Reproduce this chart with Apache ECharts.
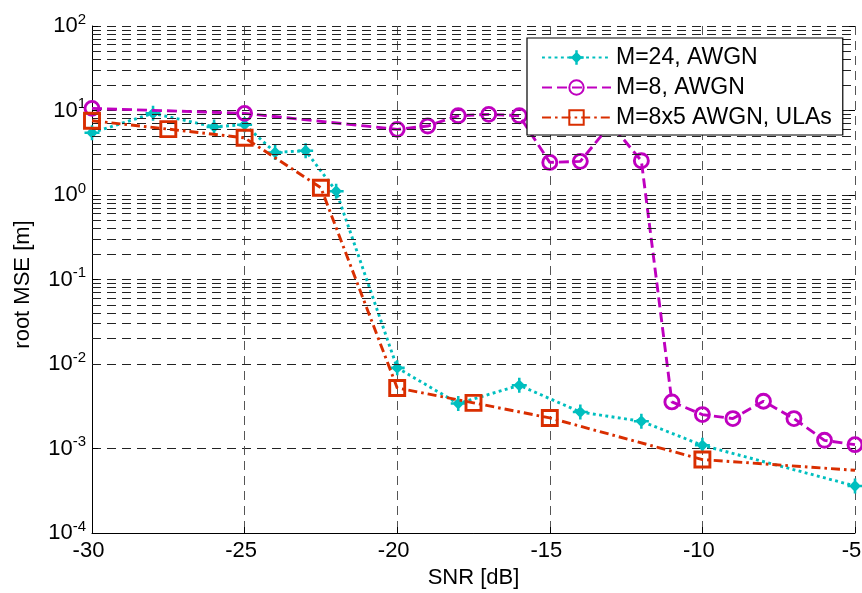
<!DOCTYPE html>
<html>
<head>
<meta charset="utf-8">
<script src="https://cdn.jsdelivr.net/npm/echarts@6/dist/echarts.min.js"></script>
<style>
html,body{margin:0;padding:0;background:#fff;}
#chart{width:862px;height:593px;}
</style>
</head>
<body>
<div id="chart"></div>
<script>
// ---- data ----
const seriesNames = ['M=24, AWGN', 'M=8, AWGN', 'M=8x5 AWGN, ULAs'];

const cyanX = [-30, -28, -26, -25, -24, -23, -22, -20, -18, -16, -14, -12, -10, -5];
const cyanY = [5.45, 9.25, 6.4, 6.8, 3.19, 3.34, 1.11, 0.0090, 0.0034, 0.0056, 0.0027, 0.0021, 0.00109, 0.00036];

const magentaX = [-30, -25, -20, -19, -18, -17, -16, -15, -14, -13, -12, -11, -10, -9, -8, -7, -6, -5];
const magentaY = [10.6, 9.25, 5.98, 6.55, 8.67, 9.0, 8.67, 2.43, 2.5, 6.9, 2.54, 0.00356, 0.00252, 0.00226, 0.00363, 0.00226, 0.00125, 0.00111];

const redX = [-30, -27.5, -25, -22.5, -20, -17.5, -15, -10, -5];
const redY = [7.57, 6.02, 4.75, 1.22, 0.00521, 0.00347, 0.0023, 0.00074, 0.000552];
const redMarked = [true, true, true, true, true, true, true, true, false];

const xTicks = [-30, -25, -20, -15, -10, -5];
const yDecades = [-4, -3, -2, -1, 0, 1, 2];
const minorMultipliers = [2, 3, 4, 5, 6, 7, 8, 9];

// ---- build ----
const FONT = 'Liberation Sans, Arial, Helvetica, sans-serif';
const C_CYAN = '#00bfbf', C_MAG = '#bf00bf', C_RED = '#d92e00';
const LW = 2.9;

const pairs = (xs, ys) => xs.map((x, i) => [x, ys[i]]);

const minorLines = [];
for (let d = yDecades[0]; d < yDecades[yDecades.length - 1]; d++) {
  minorMultipliers.forEach(m => minorLines.push({ yAxis: m * Math.pow(10, d) }));
}

const starPath = 'path://M-1.7,-10L1.7,-10L1.7,-6.2L6.2,-1.7L10,-1.7L10,1.7L6.2,1.7L1.7,6.2L1.7,10L-1.7,10L-1.7,6.2L-6.2,1.7L-10,1.7L-10,-1.7L-6.2,-1.7L-1.7,-6.2Z';

const chart = echarts.init(document.getElementById('chart'), null, { renderer: 'canvas' });
chart.setOption({
  animation: false,
  backgroundColor: '#fff',
  textStyle: { fontFamily: FONT },
  grid: { left: 92, right: 7, top: 26, bottom: 60, containLabel: false, outerBoundsMode: 'none' },
  legend: {
    orient: 'vertical',
    left: 527, top: 38,
    data: seriesNames,
    backgroundColor: '#fff',
    borderColor: '#000', borderWidth: 1.2, borderRadius: 0,
    padding: [8, 11, 6, 14],
    itemWidth: 69, itemHeight: 18, itemGap: 7,
    textStyle: { fontSize: 23, color: '#000', fontFamily: FONT },
    z: 20
  },
  xAxis: {
    type: 'value', min: xTicks[0], max: xTicks[xTicks.length - 1], interval: 5,
    name: 'SNR [dB]', nameLocation: 'middle', nameGap: 34,
    nameTextStyle: { fontSize: 22, color: '#000', fontFamily: FONT },
    axisLine: { show: true, onZero: false, lineStyle: { color: '#000', width: 1 } },
    axisTick: { show: true, inside: true, length: 6, lineStyle: { color: '#000' } },
    axisLabel: { fontSize: 22, color: '#000', margin: 7, fontFamily: FONT, padding: [0, 7, 0, 0] },
    splitLine: { show: true, lineStyle: { color: '#555', type: [9, 6], width: 1 } }
  },
  yAxis: [{
    type: 'log', logBase: 10, min: Math.pow(10, yDecades[0]), max: Math.pow(10, yDecades[yDecades.length - 1]),
    splitNumber: 6,
    name: 'root MSE [m]', nameLocation: 'middle', nameGap: 58, nameRotate: 90,
    nameTextStyle: { fontSize: 22, color: '#000', fontFamily: FONT, padding: [0, 10, 0, 0] },
    axisLine: { show: true, lineStyle: { color: '#000', width: 1 } },
    axisTick: { show: true, inside: true, length: 6, lineStyle: { color: '#000' } },
    axisLabel: {
      margin: 6,
      formatter: v => '{b|10}{e|' + Math.round(Math.log10(v)) + '}',
      rich: {
        b: { fontSize: 22, color: '#000', fontFamily: FONT },
        e: { fontSize: 15, color: '#000', fontFamily: FONT, padding: [0, 0, 13, 0] }
      }
    },
    splitLine: { show: true, lineStyle: { color: '#222', type: [9, 6], width: 1 } }
  }, {
    type: 'log', logBase: 10, position: 'right',
    min: Math.pow(10, yDecades[0]), max: Math.pow(10, yDecades[yDecades.length - 1]),
    splitNumber: 6,
    axisLine: { show: false },
    axisTick: { show: true, inside: true, length: 6, lineStyle: { color: '#000' } },
    axisLabel: { show: false },
    splitLine: { show: false }
  }],
  series: [
    {
      name: 'minor-grid', type: 'line', data: [], silent: true, z: 1,
      markLine: {
        silent: true, symbol: ['none', 'none'], label: { show: false },
        lineStyle: { color: '#222', type: [9, 6], width: 1 },
        emphasis: { disabled: true },
        data: minorLines
      }
    },
    {
      name: seriesNames[0], type: 'line', z: 3,
      data: pairs(cyanX, cyanY),
      symbol: starPath, symbolSize: 15,
      itemStyle: { color: C_CYAN, borderWidth: 0 },
      lineStyle: { color: C_CYAN, width: LW, type: [LW, 3.4], cap: 'butt' }
    },
    {
      name: seriesNames[1], type: 'line', z: 4,
      data: pairs(magentaX, magentaY),
      symbol: 'circle', symbolSize: 14,
      itemStyle: { color: 'rgba(0,0,0,0)', borderColor: C_MAG, borderWidth: LW },
      lineStyle: { color: C_MAG, width: LW, type: [10, 5] }
    },
    {
      name: seriesNames[2], type: 'line', z: 5,
      data: pairs(redX, redY).map((p, i) => redMarked[i] ? p : { value: p, symbol: 'none' }),
      symbol: 'rect', symbolSize: 15,
      itemStyle: { color: 'rgba(0,0,0,0)', borderColor: C_RED, borderWidth: LW },
      lineStyle: { color: C_RED, width: LW, type: [9, 4, 2.6, 4] }
    }
  ]
});
</script>
</body>
</html>
